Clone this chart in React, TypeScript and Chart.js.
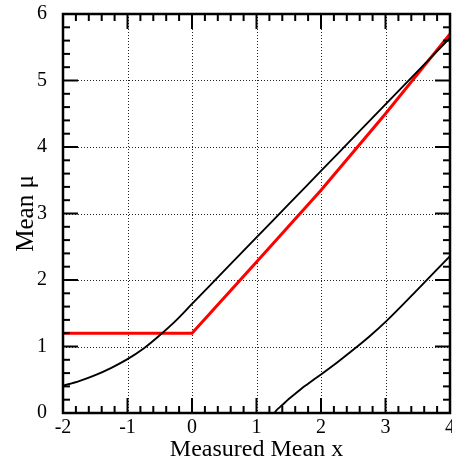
import React, { useEffect, useRef } from "react";
import { Chart, registerables } from "chart.js";

Chart.register(...registerables);

// Axis ticks
const xTicks = [-2, -1, 0, 1, 2, 3, 4];
const yTicks = [0, 1, 2, 3, 4, 5, 6];

// Upper limit curve (black)
const upperX = [-2, -1.75, -1.5, -1.25, -1, -0.75, -0.5, -0.25, 0, 0.5, 1, 1.5, 2, 2.5, 3, 3.5, 4];
const upperY = [0.41, 0.48, 0.57, 0.68, 0.81, 0.97, 1.17, 1.39, 1.64, 2.14, 2.64, 3.14, 3.64, 4.14, 4.64, 5.14, 5.64];

// Lower limit curve (black)
const lowerX = [1.28, 1.3, 1.4, 1.5, 1.6, 1.7, 1.8, 1.9, 2.0, 2.25, 2.5, 2.75, 3.0, 3.5, 4.0];
const lowerY = [0, 0.03, 0.12, 0.21, 0.29, 0.37, 0.44, 0.51, 0.58, 0.76, 0.95, 1.15, 1.37, 1.86, 2.36];

// Red curve
const redX = [-2, 0, 1, 2, 3, 4];
const redY = [1.2, 1.2, 2.27, 3.35, 4.5, 5.7];

const zip = (xs: number[], ys: number[]) => xs.map((x, i) => ({ x, y: ys[i] }));

const FONT = "'Liberation Serif', 'Times New Roman', serif";

const framePlugin = {
  id: "frameTicks",
  beforeDatasetsDraw(chart: any) {
    const { ctx, chartArea, scales } = chart;
    const { left, right, top, bottom } = chartArea;
    const x = scales.x;
    const y = scales.y;
    ctx.save();
    ctx.strokeStyle = "#222";
    ctx.lineWidth = 1;
    ctx.setLineDash([1, 2]);
    xTicks.slice(1, -1).forEach((v) => {
      const px = Math.round(x.getPixelForValue(v)) + 0.5;
      ctx.beginPath();
      ctx.moveTo(px, top);
      ctx.lineTo(px, bottom);
      ctx.stroke();
    });
    yTicks.slice(1, -1).forEach((v) => {
      const py = Math.round(y.getPixelForValue(v)) + 0.5;
      ctx.beginPath();
      ctx.moveTo(left, py);
      ctx.lineTo(right, py);
      ctx.stroke();
    });
    ctx.restore();
  },
  afterDatasetsDraw(chart: any) {
    const { ctx, chartArea, scales } = chart;
    const { left, right, top, bottom } = chartArea;
    const x = scales.x;
    const y = scales.y;
    const major = 15;
    const minor = 7;
    ctx.save();
    ctx.strokeStyle = "#000";
    ctx.setLineDash([]);
    ctx.lineWidth = 2;
    const seg = (x1: number, y1: number, x2: number, y2: number) => {
      ctx.beginPath();
      ctx.moveTo(x1, y1);
      ctx.lineTo(x2, y2);
      ctx.stroke();
    };
    for (let i = 0; i < xTicks.length; i++) {
      const px = x.getPixelForValue(xTicks[i]);
      seg(px, bottom, px, bottom - major);
      seg(px, top, px, top + major);
      if (i < xTicks.length - 1) {
        const step = (xTicks[i + 1] - xTicks[i]) / 5;
        for (let k = 1; k < 5; k++) {
          const pm = x.getPixelForValue(xTicks[i] + k * step);
          seg(pm, bottom, pm, bottom - minor);
          seg(pm, top, pm, top + minor);
        }
      }
    }
    for (let i = 0; i < yTicks.length; i++) {
      const py = y.getPixelForValue(yTicks[i]);
      seg(left, py, left + major, py);
      seg(right, py, right - major, py);
      if (i < yTicks.length - 1) {
        const step = (yTicks[i + 1] - yTicks[i]) / 5;
        for (let k = 1; k < 5; k++) {
          const pm = y.getPixelForValue(yTicks[i] + k * step);
          seg(left, pm, left + minor, pm);
          seg(right, pm, right - minor, pm);
        }
      }
    }
    ctx.lineWidth = 2.5;
    ctx.strokeRect(left, top, right - left, bottom - top);
    ctx.restore();
  },
};

const zeroPad = (s: any) => {
  s.paddingLeft = 0;
  s.paddingRight = 0;
  s.paddingTop = 0;
  s.paddingBottom = 0;
};

export default function App() {
  const ref = useRef<HTMLCanvasElement | null>(null);
  useEffect(() => {
    if (!ref.current) return;
    const chart = new Chart(ref.current, {
      type: "line",
      data: {
        datasets: [
          {
            data: zip(upperX, upperY),
            borderColor: "#000",
            borderWidth: 1.9,
            pointRadius: 0,
            cubicInterpolationMode: "monotone",
          },
          {
            data: zip(lowerX, lowerY),
            borderColor: "#000",
            borderWidth: 1.9,
            pointRadius: 0,
            cubicInterpolationMode: "monotone",
          },
          {
            data: zip(redX, redY),
            borderColor: "#ff0000",
            borderWidth: 3,
            pointRadius: 0,
            tension: 0,
          },
        ],
      },
      options: {
        animation: false,
        responsive: false,
        devicePixelRatio: 1,
        layout: { padding: { top: 14, right: 2, left: 0, bottom: 0 } },
        plugins: { legend: { display: false }, tooltip: { enabled: false } },
        scales: {
          x: {
            type: "linear",
            min: -2,
            max: 4,
            grid: { display: false, drawTicks: false },
            border: { display: false },
            afterBuildTicks: (s: any) => {
              s.ticks = xTicks.map((v) => ({ value: v }));
            },
            afterFit: (s: any) => {
              s.height = 51;
              zeroPad(s);
            },
            ticks: {
              color: "#000",
              padding: 3,
              maxRotation: 0,
              font: { family: FONT, size: 20 },
            },
            title: {
              display: true,
              text: "Measured Mean x",
              color: "#000",
              font: { family: FONT, size: 24 },
              padding: { top: 0, bottom: 0 },
            },
          },
          y: {
            type: "linear",
            min: 0,
            max: 6,
            grid: { display: false, drawTicks: false },
            border: { display: false },
            afterBuildTicks: (s: any) => {
              s.ticks = yTicks.map((v) => ({ value: v }));
            },
            afterFit: (s: any) => {
              s.width = 63;
              zeroPad(s);
            },
            ticks: {
              color: "#000",
              padding: 16,
              font: { family: FONT, size: 20 },
            },
            title: {
              display: true,
              text: "Mean μ",
              color: "#000",
              font: { family: FONT, size: 25 },
              padding: { top: 11, bottom: 0 },
            },
          },
        },
      },
      plugins: [framePlugin],
    } as any);
    return () => chart.destroy();
  }, []);
  return (
    <div style={{ position: "absolute", left: 0, top: 0, width: 452, height: 464, background: "#fff" }}>
      <canvas ref={ref} width={452} height={464} />
    </div>
  );
}
